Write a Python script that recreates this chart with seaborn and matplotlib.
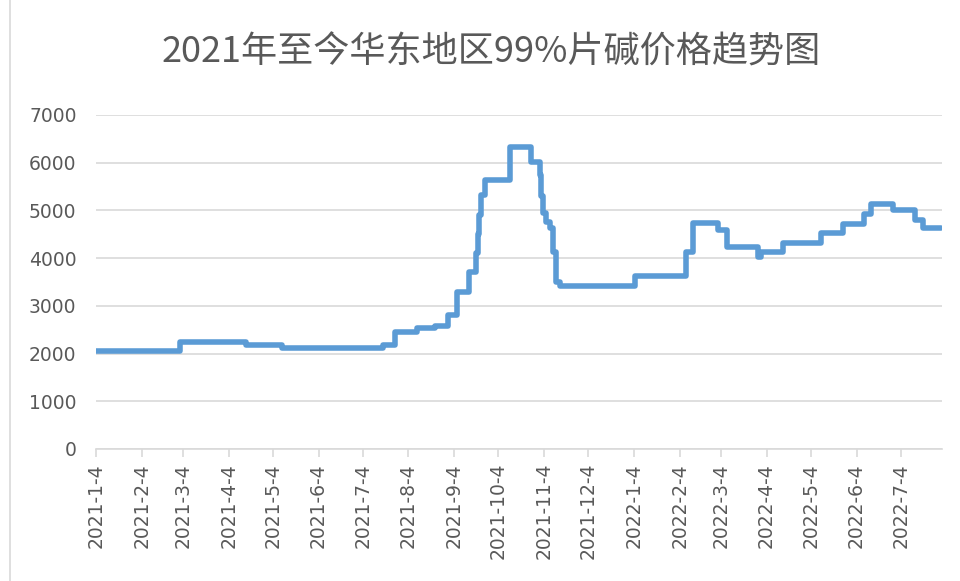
import pandas as pd
import matplotlib
matplotlib.use("Agg")
from matplotlib import pyplot as plt
import seaborn as sns

# price change points (date, yuan/ton)
dates = ["2021-01-04", "2021-03-02", "2021-04-16", "2021-05-10", "2021-07-18",
         "2021-07-26", "2021-08-10", "2021-08-22", "2021-08-31", "2021-09-06",
         "2021-09-14", "2021-09-19", "2021-09-20", "2021-09-21", "2021-09-22",
         "2021-09-25", "2021-10-12", "2021-10-26", "2021-11-01", "2021-11-02",
         "2021-11-03", "2021-11-05", "2021-11-08", "2021-11-10", "2021-11-12",
         "2021-11-15", "2022-01-05", "2022-02-08", "2022-02-13", "2022-03-02",
         "2022-03-08", "2022-03-29", "2022-03-31", "2022-04-15", "2022-05-11",
         "2022-05-26", "2022-06-09", "2022-06-14", "2022-06-29", "2022-07-14",
         "2022-07-19", "2022-07-31"]
prices = [2060, 2250, 2180, 2110, 2180,
          2460, 2530, 2580, 2800, 3290,
          3710, 4100, 4500, 4900, 5320,
          5640, 6330, 6020, 5740, 5300,
          4950, 4750, 4630, 4130, 3500,
          3420, 3620, 4130, 4730, 4590,
          4230, 4030, 4130, 4320, 4520,
          4720, 4920, 5130, 5000, 4800,
          4630, 4630]

tick_dates = ["2021-01-04", "2021-02-04", "2021-03-04", "2021-04-04", "2021-05-04",
              "2021-06-04", "2021-07-04", "2021-08-04", "2021-09-04", "2021-10-04",
              "2021-11-04", "2021-12-04", "2022-01-04", "2022-02-04", "2022-03-04",
              "2022-04-04", "2022-05-04", "2022-06-04", "2022-07-04"]
tick_labels = ["2021-1-4", "2021-2-4", "2021-3-4", "2021-4-4", "2021-5-4",
               "2021-6-4", "2021-7-4", "2021-8-4", "2021-9-4", "2021-10-4",
               "2021-11-4", "2021-12-4", "2022-1-4", "2022-2-4", "2022-3-4",
               "2022-4-4", "2022-5-4", "2022-6-4", "2022-7-4"]

title = "2021年至今华东地区99%片碱价格趋势图"

df = pd.DataFrame({"date": pd.to_datetime(dates), "price": prices})

sns.set_style("white")
plt.rcParams["font.family"] = ["DejaVu Sans", "Noto Sans CJK SC"]

fig = plt.figure(figsize=(9.6, 5.81), dpi=100)
ax = fig.add_axes([96 / 960, 1 - 449 / 581, 846 / 960, 334 / 581])

sns.lineplot(data=df, x="date", y="price", ax=ax, color="#5B9BD5",
             linewidth=4, drawstyle="steps-post")

ax.set_xlim(pd.Timestamp("2021-01-04"), pd.Timestamp("2022-08-01"))
ax.set_ylim(0, 7000)
ax.set_yticks(range(0, 7001, 1000))
ax.yaxis.grid(True, color="#d9d9d9", linewidth=1.2)
ax.set_axisbelow(True)

ax.set_xticks(pd.to_datetime(tick_dates))
ax.set_xticklabels(tick_labels, rotation=90, va="top", ha="center")
ax.set_xlabel("")
ax.set_ylabel("")

for s in ["left", "right", "top"]:
    ax.spines[s].set_visible(False)
ax.spines["bottom"].set_color("#d9d9d9")
ax.spines["bottom"].set_linewidth(1.2)

ax.tick_params(axis="x", which="major", length=6, width=1.2, color="#d9d9d9",
               labelsize=13.5, labelcolor="#595959", pad=4, bottom=True)
ax.tick_params(axis="y", length=0, labelsize=13.5, labelcolor="#595959", pad=14)

fig.text(491 / 960, 1 - 53 / 581, title, ha="center", va="center",
         fontsize=26, color="#595959", family=["Noto Sans CJK SC", "DejaVu Sans"])

fig.add_artist(plt.Line2D([10 / 960, 10 / 960], [0, 1], color="#d9d9d9",
                          linewidth=1.2, transform=fig.transFigure))

fig.savefig("out.png", dpi=100)
